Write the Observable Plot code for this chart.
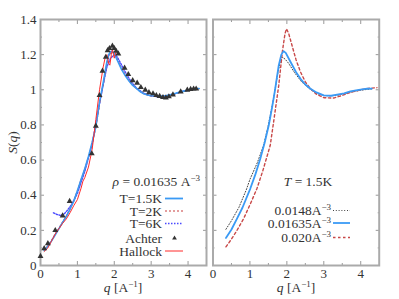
<!DOCTYPE html>
<html><head><meta charset="utf-8">
<script src="https://cdn.jsdelivr.net/npm/d3@7"></script>
<script src="https://cdn.jsdelivr.net/npm/@observablehq/plot@0.6"></script>
<style>
body{margin:0;background:#fff;}
#wrap{position:relative;width:399px;height:299px;font-family:"Liberation Serif","Times New Roman",serif;color:#333;overflow:hidden;}
#wrap > svg{position:absolute;top:0;}
#wrap svg, #wrap svg text{font-family:"Liberation Serif","Times New Roman",serif !important;}
.lab{position:absolute;white-space:nowrap;font-size:13.5px;line-height:11px;}
.lab sup{font-size:9px;line-height:0;vertical-align:5px;}
.sw{position:absolute;overflow:visible;}
</style></head><body><div id="wrap"></div>
<script>
// ---- tick values ----
const xMajor = [0, 1, 2, 3, 4];
const xMinor = [0.5, 1.5, 2.5, 3.5];
const yMajor = [0, 0.2, 0.4, 0.6, 0.8, 1, 1.2, 1.4];
const yMinor = [0.1, 0.3, 0.5, 0.7, 0.9, 1.1, 1.3];

// ---- left panel: rho = 0.01635 ----
const qT15 = [0.1,0.2,0.3,0.4,0.5,0.6,0.7,0.8,0.9,1.0,1.1,1.2,1.3,1.4,1.5,1.6,1.7,1.8,1.85,1.9,1.95,2.0,2.1,2.2,2.3,2.4,2.5,2.6,2.7,2.8,2.9,3.0,3.2,3.4,3.6,3.8,4.0,4.2,4.3];
const sT15 = [0.085,0.11,0.14,0.175,0.21,0.245,0.28,0.32,0.365,0.425,0.49,0.55,0.62,0.70,0.79,0.93,1.04,1.16,1.20,1.218,1.22,1.205,1.16,1.115,1.08,1.05,1.025,1.008,0.99,0.977,0.97,0.966,0.963,0.966,0.976,0.988,0.998,1.005,1.007];
const qT2 = [0.1,0.2,0.3,0.4,0.5,0.6,0.7,0.8,0.9,1.0,1.1,1.2,1.3,1.4,1.5,1.6,1.7,1.8,1.85,1.9,1.95,2.0,2.1,2.2,2.3,2.4,2.5,2.6,2.7,2.8,2.9,3.0,3.2,3.4,3.6,3.8,4.0,4.2,4.3];
const sT2 = [0.088,0.112,0.142,0.178,0.212,0.247,0.282,0.322,0.367,0.425,0.488,0.548,0.618,0.70,0.785,0.92,1.03,1.15,1.19,1.21,1.215,1.205,1.165,1.12,1.085,1.053,1.027,1.008,0.99,0.978,0.97,0.965,0.962,0.965,0.975,0.987,0.997,1.004,1.006];
const qT6 = [0.35,0.45,0.55,0.65,0.75,0.85,1.0,1.2,1.4,1.6,1.7,1.8,1.9,2.0,2.05,2.1,2.2,2.3,2.4,2.5,2.6,2.8,3.0,3.2,3.4,3.6,3.8,4.0,4.2];
const sT6 = [0.30,0.29,0.285,0.295,0.32,0.35,0.41,0.535,0.69,0.92,1.03,1.13,1.18,1.20,1.195,1.18,1.14,1.10,1.065,1.035,1.01,0.98,0.965,0.96,0.965,0.975,0.988,0.998,1.004];
const qAchter = [0,0.1,0.2,0.4,0.6,0.79,1.39,1.5,1.6,1.68,1.77,1.82,1.87,1.95,2.0,2.05,2.11,2.28,2.38,2.5,2.62,2.72,2.84,2.94,3.05,3.14,3.23,3.32,3.4,3.48,3.59,3.8,3.98,4.07,4.15,4.22];
const sAchter = [0.053,0.097,0.125,0.20,0.283,0.366,0.637,0.794,0.968,1.107,1.186,1.224,1.236,1.249,1.236,1.22,1.205,1.124,1.088,1.053,1.039,1.014,0.999,0.985,0.978,0.968,0.963,0.957,0.955,0.961,0.972,0.989,0.999,1.003,1.005,1.005];
const qHallock = [0.1,0.2,0.3,0.4,0.5,0.6,0.7,0.8,0.9,1.0,1.1,1.15,1.2,1.3,1.4,1.5,1.6,1.7,1.75,1.8,1.85,1.88,1.92,1.95,1.98,2.0,2.04,2.07,2.1];
const sHallock = [0.08,0.10,0.14,0.18,0.21,0.24,0.265,0.30,0.34,0.375,0.44,0.48,0.50,0.56,0.66,0.83,1.0,1.13,1.18,1.20,1.15,1.14,1.20,1.23,1.20,1.18,1.21,1.22,1.20];

// ---- right panel: T = 1.5K ----
const qR148 = [0.35,0.5,0.7,0.9,1.0,1.2,1.37,1.5,1.64,1.75,1.82,1.87,1.95,2.05,2.2,2.4,2.6,2.8,3.0,3.2,3.4,3.6,3.8,4.0,4.3];
const sR148 = [0.206,0.255,0.33,0.43,0.49,0.585,0.684,0.80,0.95,1.09,1.16,1.186,1.175,1.15,1.10,1.045,1.008,0.98,0.967,0.966,0.97,0.98,0.99,0.998,1.005];
const qR1635 = [0.35,0.5,0.65,0.8,1.01,1.15,1.28,1.4,1.51,1.6,1.67,1.78,1.85,1.91,1.97,2.1,2.25,2.37,2.5,2.64,2.8,3.0,3.2,3.36,3.55,3.72,3.95,4.17,4.3];
const sR1635 = [0.157,0.205,0.267,0.33,0.438,0.52,0.608,0.70,0.798,0.90,0.987,1.139,1.20,1.22,1.21,1.158,1.10,1.063,1.03,1.006,0.985,0.968,0.966,0.972,0.98,0.991,1.0,1.006,1.007];
const qR020 = [0.35,0.5,0.65,0.83,1.0,1.19,1.35,1.55,1.65,1.78,1.88,1.95,1.99,2.05,2.14,2.25,2.37,2.5,2.64,2.8,3.0,3.27,3.5,3.72,4.0,4.2,4.44];
const sR020 = [0.106,0.15,0.20,0.267,0.345,0.438,0.54,0.684,0.83,1.025,1.22,1.32,1.347,1.32,1.252,1.17,1.101,1.045,1.006,0.975,0.955,0.953,0.968,0.985,1.0,1.008,1.012];

const rows = (qs, ss) => qs.map((q, i) => ({q, s: ss[i]}));
const FONT = '"Liberation Serif", "Times New Roman", serif';
const TICK = "#999";

function axes(showY) {
  const m = [
    Plot.axisX(xMajor, {anchor: "bottom", tickSize: 0, tickPadding: 3, label: null, fontSize: 13, fill: "#333"}),
    Plot.axisX(xMajor, {anchor: "bottom", tickSize: -4, fill: "none", stroke: TICK, label: null}),
    Plot.axisX(xMinor, {anchor: "bottom", tickSize: -2, fill: "none", stroke: TICK, label: null}),
    Plot.axisX(xMajor, {anchor: "top", tickSize: -4, fill: "none", stroke: TICK, label: null}),
    Plot.axisX(xMinor, {anchor: "top", tickSize: -2, fill: "none", stroke: TICK, label: null}),
    Plot.axisY(yMajor, {anchor: "left", tickSize: -4, fill: "none", stroke: TICK, label: null}),
    Plot.axisY(yMinor, {anchor: "left", tickSize: -2, fill: "none", stroke: TICK, label: null}),
    Plot.axisY(yMajor, {anchor: "right", tickSize: -4, fill: "none", stroke: TICK, label: null}),
    Plot.axisY(yMinor, {anchor: "right", tickSize: -2, fill: "none", stroke: TICK, label: null}),
    Plot.frame({stroke: "#aaa", strokeWidth: 2})
  ];
  if (showY) m.unshift(Plot.axisY(yMajor, {anchor: "left", tickSize: 0, tickPadding: 4, label: null, fontSize: 13, fill: "#333", tickFormat: d => String(+d.toFixed(1))}));
  return m;
}

const common = {height: 299, marginTop: 19, marginBottom: 34, x: {domain: [0, 4.5]}, y: {domain: [0, 1.4]},
  style: {fontFamily: FONT, background: "transparent"}};

const left = Plot.plot({...common, width: 209, marginLeft: 40, marginRight: 3,
  marks: [
    ...axes(true),
    Plot.line(rows(qT6, sT6), {x: "q", y: "s", stroke: "#4a4aff", strokeWidth: 1.4, strokeDasharray: "1.5,1.5"}),
    Plot.line(rows(qT2, sT2), {x: "q", y: "s", stroke: "#c83c3c", strokeWidth: 1.2, strokeDasharray: "2,2"}),
    Plot.line(rows(qT15, sT15), {x: "q", y: "s", stroke: "#3a9af5", strokeWidth: 1.6}),
    Plot.line(rows(qHallock, sHallock), {x: "q", y: "s", stroke: "#ff2a2a", strokeWidth: 1}),
    Plot.dot(rows(qAchter, sAchter), {x: "q", y: "s", symbol: "triangle", r: 2.2, fill: "#333", stroke: "none"})
  ]});
left.style.left = "0px";

const right = Plot.plot({...common, width: 190, marginLeft: 3.5, marginRight: 20.3,
  marks: [
    ...axes(false),
    Plot.line(rows(qR148, sR148), {x: "q", y: "s", stroke: "#444", strokeWidth: 1, strokeDasharray: "1,1.8"}),
    Plot.line(rows(qR020, sR020), {x: "q", y: "s", stroke: "#c84848", strokeWidth: 1.4, strokeDasharray: "2.5,2.5"}),
    Plot.line(rows(qR1635, sR1635), {x: "q", y: "s", stroke: "#3a9af5", strokeWidth: 1.8})
  ]});
right.style.left = "209px";

const wrap = document.getElementById("wrap");
wrap.append(left, right);

function label(html, x, y, anchor, extra) {
  const d = document.createElement("div");
  d.className = "lab";
  d.innerHTML = html;
  d.style.top = (y - 5.5) + "px";
  if (anchor === "end") d.style.right = (399 - x) + "px";
  else if (anchor === "middle") { d.style.left = x + "px"; d.style.transform = "translateX(-50%)"; }
  else d.style.left = x + "px";
  if (extra) Object.assign(d.style, extra);
  wrap.append(d);
  return d;
}
const NS = "http://www.w3.org/2000/svg";
const overlay = document.createElementNS(NS, "svg");
overlay.setAttribute("class", "sw");
overlay.setAttribute("width", 399); overlay.setAttribute("height", 299);
overlay.style.left = "0px"; overlay.style.top = "0px";
wrap.append(overlay);
function swatch(x1, x2, y, stroke, width, dash) {
  const l = document.createElementNS(NS, "line");
  l.setAttribute("x1", x1); l.setAttribute("x2", x2); l.setAttribute("y1", y); l.setAttribute("y2", y);
  l.setAttribute("stroke", stroke); l.setAttribute("stroke-width", width);
  if (dash) l.setAttribute("stroke-dasharray", dash);
  overlay.append(l);
}
function tri(x, y) {
  const p = document.createElementNS(NS, "path");
  p.setAttribute("d", `M${x},${y-2.6}L${x+2.4},${y+1.6}L${x-2.4},${y+1.6}Z`);
  p.setAttribute("fill", "#333");
  overlay.append(p);
}

// axis labels
label('<i>q</i> [A<sup>−1</sup>]', 123, 287, "middle");
label('<i>q</i> [A<sup>−1</sup>]', 296, 287, "middle");
label('<i>S</i>(<i>q</i>)', 12, 142, "middle", {transform: "translateX(-50%) rotate(-90deg)"});

// left legend
label('<i>ρ</i> = 0.01635 A<sup>−3</sup>', 200, 181, "end");
const legL = [["T=1.5K", 198.5], ["T=2K", 211], ["T=6K", 223.5], ["Achter", 238.5], ["Hallock", 251]];
legL.forEach(([t, y]) => label(t, 162, y, "end"));
swatch(165, 183, 198.5, "#3a9af5", 1.8);
swatch(165, 183, 211, "#c83c3c", 1.2, "2,2");
swatch(165, 183, 223.5, "#4a4aff", 1.4, "1.5,1.5");
tri(174.5, 238);
swatch(165, 183, 251, "#ff2a2a", 1);

// right legend
label('<i>T</i> = 1.5K', 308, 181, "middle");
label('0.0148A<sup>−3</sup>', 331, 210.5, "end");
label('0.01635A<sup>−3</sup>', 331, 223, "end");
label('0.020A<sup>−3</sup>', 331, 237.5, "end");
swatch(333, 350, 210.5, "#444", 1, "1,1.8");
swatch(333, 350, 223, "#3a9af5", 1.8);
swatch(333, 350, 237.5, "#c84848", 1.4, "2.5,2.5");
</script>
</body></html>
